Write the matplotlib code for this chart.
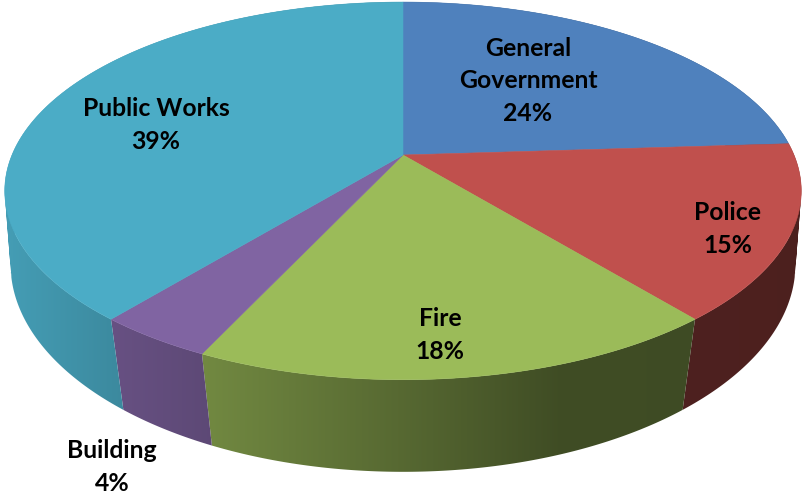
import matplotlib
matplotlib.use('Agg')
import matplotlib.pyplot as plt
from matplotlib.path import Path
import numpy as np

# ---------------------------------------------------

departments = ['General\nGovernment', 'Police', 'Fire', 'Building', 'Public Works']
shares = [24, 15, 18, 4, 39]
top_colors = ['#4F81BD', '#C0504D', '#9BBB59', '#8064A2', '#4BACC6']

# where each label sits, in pixels
label_x = [528, 728, 440, 112, 156]
label_y = [81, 229, 335, 467, 125]

# darkening of the rim from left to right
shade_x = [0, 120, 207, 400, 560, 802]
shade_f = [0.92, 0.80, 0.73, 0.56, 0.41, 0.40]

fig_name = 'out.png'

# ---------------------------------------------------

center_x = 403
top_ring = dict(cy=155, a=391, b=182, k=0.19)
low_ring = dict(cy=233, a=388, b=203, k=0.15)


def ring_points(theta, cy, a, b, k):
    # circle seen in perspective, theta runs clockwise from 12 o'clock
    w = 1 + k * np.cos(theta)
    return center_x + a * np.sin(theta) / w, cy - b * np.cos(theta) / w


def wall_path(t):
    # side wall as a union of thin quads, all wound the same way
    ux, uy = ring_points(t, **top_ring)
    lx, ly = ring_points(t, **low_ring)
    quads = []
    for j in range(len(t) - 1):
        q = np.array([[ux[j], uy[j]], [ux[j + 1], uy[j + 1]],
                      [lx[j + 1], ly[j + 1]], [lx[j], ly[j]]])
        x, y = q[:, 0], q[:, 1]
        area = np.sum(x * np.roll(y, -1) - np.roll(x, -1) * y)
        if area < 0:
            q = q[::-1]
        quads.append(Path(np.vstack([q, q[:1]]), closed=True))
    return Path.make_compound_path(*quads)


fig = plt.figure(figsize=(8.02, 4.95), dpi=100)
ax = fig.add_axes([0, 0, 1, 1])
ax.set_xlim(0, 802)
ax.set_ylim(495, 0)
ax.axis('off')

edges = 2 * np.pi * np.cumsum([0] + shares) / sum(shares)
px = np.arange(802) + 0.5
shade = np.interp(px, shade_x, shade_f)

# rim first: a horizontal gradient clipped to each slice's side wall
for i, color in enumerate(top_colors):
    t = np.linspace(edges[i], edges[i + 1], 200)
    rgb = np.array(matplotlib.colors.to_rgb(color))
    grad = (shade[:, None] * rgb)[None, :, :]
    im = ax.imshow(grad, extent=(0, 802, 495, 0), aspect='auto',
                   interpolation='bilinear', zorder=2)
    im.set_clip_path(wall_path(t), transform=ax.transData)

# flat top of the pie
for i, color in enumerate(top_colors):
    t = np.linspace(edges[i], edges[i + 1], 200)
    x, y = ring_points(t, **top_ring)
    ax.fill(np.r_[center_x, x], np.r_[top_ring['cy'], y],
            color=color, linewidth=0.4, zorder=3)

for name, share, x, y in zip(departments, shares, label_x, label_y):
    ax.text(x, y, f'{name}\n{share}%', ha='center', va='center',
            family='Lato', fontweight='bold', fontsize=17.8, color='black',
            linespacing=1.48, zorder=4)

ax.set_xlim(0, 802)
ax.set_ylim(495, 0)

plt.savefig(fig_name, dpi=100)
